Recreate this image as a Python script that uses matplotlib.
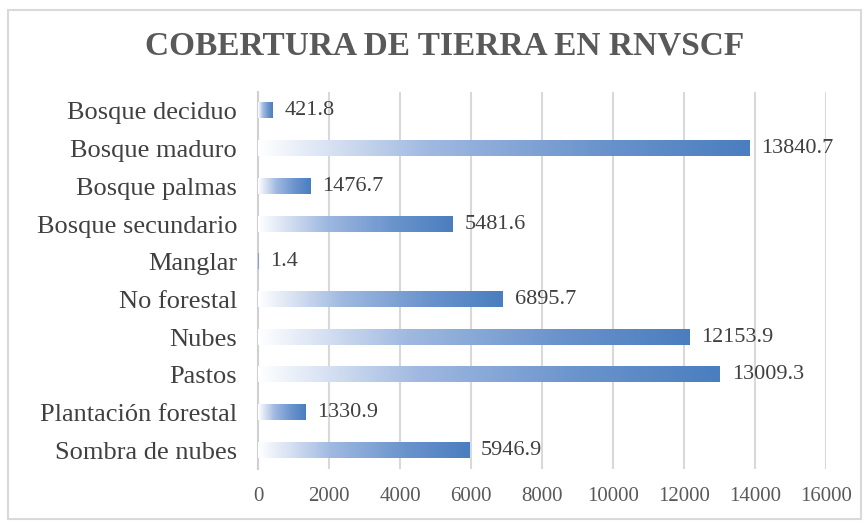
import numpy as np
import matplotlib
matplotlib.use("Agg")
import matplotlib.pyplot as plt
from matplotlib.colors import LinearSegmentedColormap
from matplotlib.patches import Rectangle

categorias = ["Bosque deciduo", "Bosque maduro", "Bosque palmas", "Bosque secundario",
              "Manglar", "No forestal", "Nubes", "Pastos", "Plantación forestal",
              "Sombra de nubes"]
valores = [421.8, 13840.7, 1476.7, 5481.6, 1.4, 6895.7, 12153.9, 13009.3, 1330.9, 5946.9]
etiquetas = ["421.8", "13840.7", "1476.7", "5481.6", "1.4", "6895.7", "12153.9",
             "13009.3", "1330.9", "5946.9"]
xticks = [0, 2000, 4000, 6000, 8000, 10000, 12000, 14000, 16000]

plt.rcParams["font.family"] = ["Liberation Serif", "DejaVu Serif"]

fig = plt.figure(figsize=(8.66, 5.23), dpi=100)
ax = fig.add_axes([0.298, 0.103, 0.656, 0.721])

# gradiente blanco -> azul por barra
cmap = LinearSegmentedColormap.from_list(
    "grad", [(0, "#ffffff"), (0.35, "#9fb8e0"), (0.7, "#6a93cc"), (1, "#4a7ebf")])
grad = np.linspace(0, 1, 256).reshape(1, -1)
h = 0.4
n = len(categorias)
for i, v in enumerate(valores):
    y = n - 1 - i
    ax.imshow(grad, cmap=cmap, aspect="auto", extent=[0, v, y - h / 2, y + h / 2],
              interpolation="bilinear", zorder=3)
    ax.text(v + 330, y, etiquetas[i], va="center", ha="left", fontsize=16,
            color="#404040", zorder=4)

ax.set_xlim(0, 16000)
ax.set_ylim(-0.5, n - 0.5)
ax.set_yticks(range(n))
ax.set_yticklabels(categorias[::-1], fontsize=19, color="#404040")
ax.set_xticks(xticks)
ax.set_xticklabels([str(t) for t in xticks], fontsize=15, color="#595959")
ax.tick_params(length=0)
ax.tick_params(axis="x", pad=13)
ax.tick_params(axis="y", pad=15)
ax.grid(axis="x", color="#d9d9d9", linewidth=1.5, zorder=0)
ax.set_axisbelow(True)
for s in ["top", "right", "bottom"]:
    ax.spines[s].set_visible(False)
ax.spines["left"].set_color("#d0d0d0")
ax.spines["left"].set_linewidth(1.5)

fig.text(0.514, 0.912, "COBERTURA DE TIERRA EN RNVSCF", ha="center", va="center",
         fontsize=24, fontweight="bold", color="#595959")

# marco del grafico
fig.patches.append(Rectangle((0.009, 0.008), 0.985, 0.972, transform=fig.transFigure,
                             fill=False, edgecolor="#d9d9d9", linewidth=1.5))

fig.savefig("out.png", dpi=100)
